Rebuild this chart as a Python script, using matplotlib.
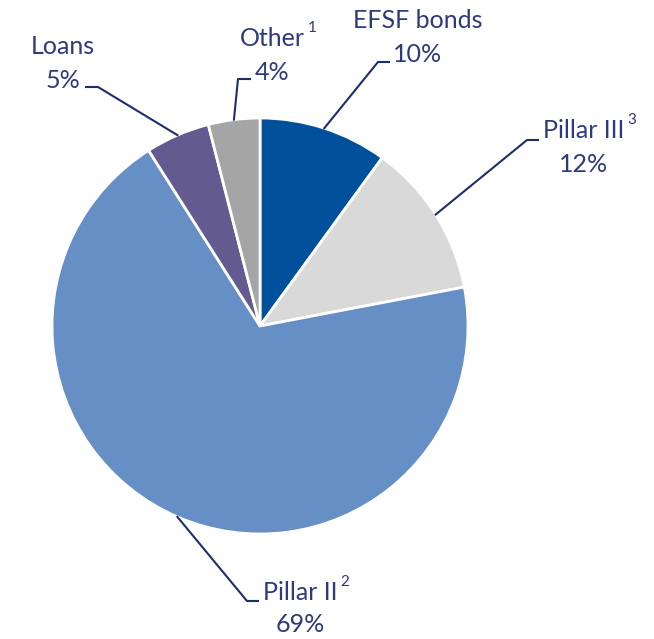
import numpy as np
import matplotlib.pyplot as plt

labels = ["EFSF bonds", "Pillar III", "Pillar II", "Loans", "Other"]
notes = ["", "3", "2", "", "1"]
shares = [10, 12, 69, 5, 4]
colors = ["#00509b", "#d9d9d9", "#668fc6", "#635b8f", "#a5a5a5"]

# label anchor (text centre x, name y, value y), elbow and end of leader, in pixels
label_xy = [(418, 20, 55), (584, 131, 165), (300, 593, 625), (63, 46, 80), (272, 39, 72)]
elbows = [((378, 62), (389, 62)), ((527, 140), (538, 140)), ((247, 601), (258, 601)),
          ((98, 87), (86, 87)), ((238, 79), (250, 79))]

W, H = 654, 639
cx, cy, R = 260, 326, 208
text_c = "#2d3a7c"
line_c = "#1f2d6b"
plt.rcParams['font.family'] = ['Lato', 'DejaVu Sans']

fig = plt.figure(figsize=(W / 100, H / 100), dpi=100)
ax = fig.add_axes([0, 0, 1, 1])

# inverted y axis, so counterclock=True draws clockwise on screen; angle 270 is the top
wedges, _ = ax.pie(shares, colors=colors, startangle=-90, counterclock=True,
                   center=(cx, cy), radius=R, frame=True,
                   wedgeprops=dict(edgecolor="white", linewidth=2))
ax.set_xlim(0, W)
ax.set_ylim(H, 0)
ax.set_aspect('equal')
ax.axis('off')

for w, lab, note, val, (tx, ny, vy), (el, end) in zip(wedges, labels, notes, shares, label_xy, elbows):
    mid = np.deg2rad((w.theta1 + w.theta2) / 2)
    px, py = cx + R * np.cos(mid), cy + R * np.sin(mid)
    ax.plot([px, el[0], end[0]], [py, el[1], end[1]], color=line_c, lw=1.5, zorder=3)
    t = ax.text(tx, ny, lab, ha='center', va='center', fontsize=18, color=text_c)
    ax.text(tx, vy, f"{val}%", ha='center', va='center', fontsize=18, color=text_c)
    if note:
        fig.canvas.draw()
        bb = t.get_window_extent()
        x1 = ax.transData.inverted().transform((bb.x1, bb.y1))
        ax.text(x1[0] + 3, ny - 11, note, ha='left', va='center', fontsize=11,
                color=text_c)

fig.savefig("out.png", dpi=100)
